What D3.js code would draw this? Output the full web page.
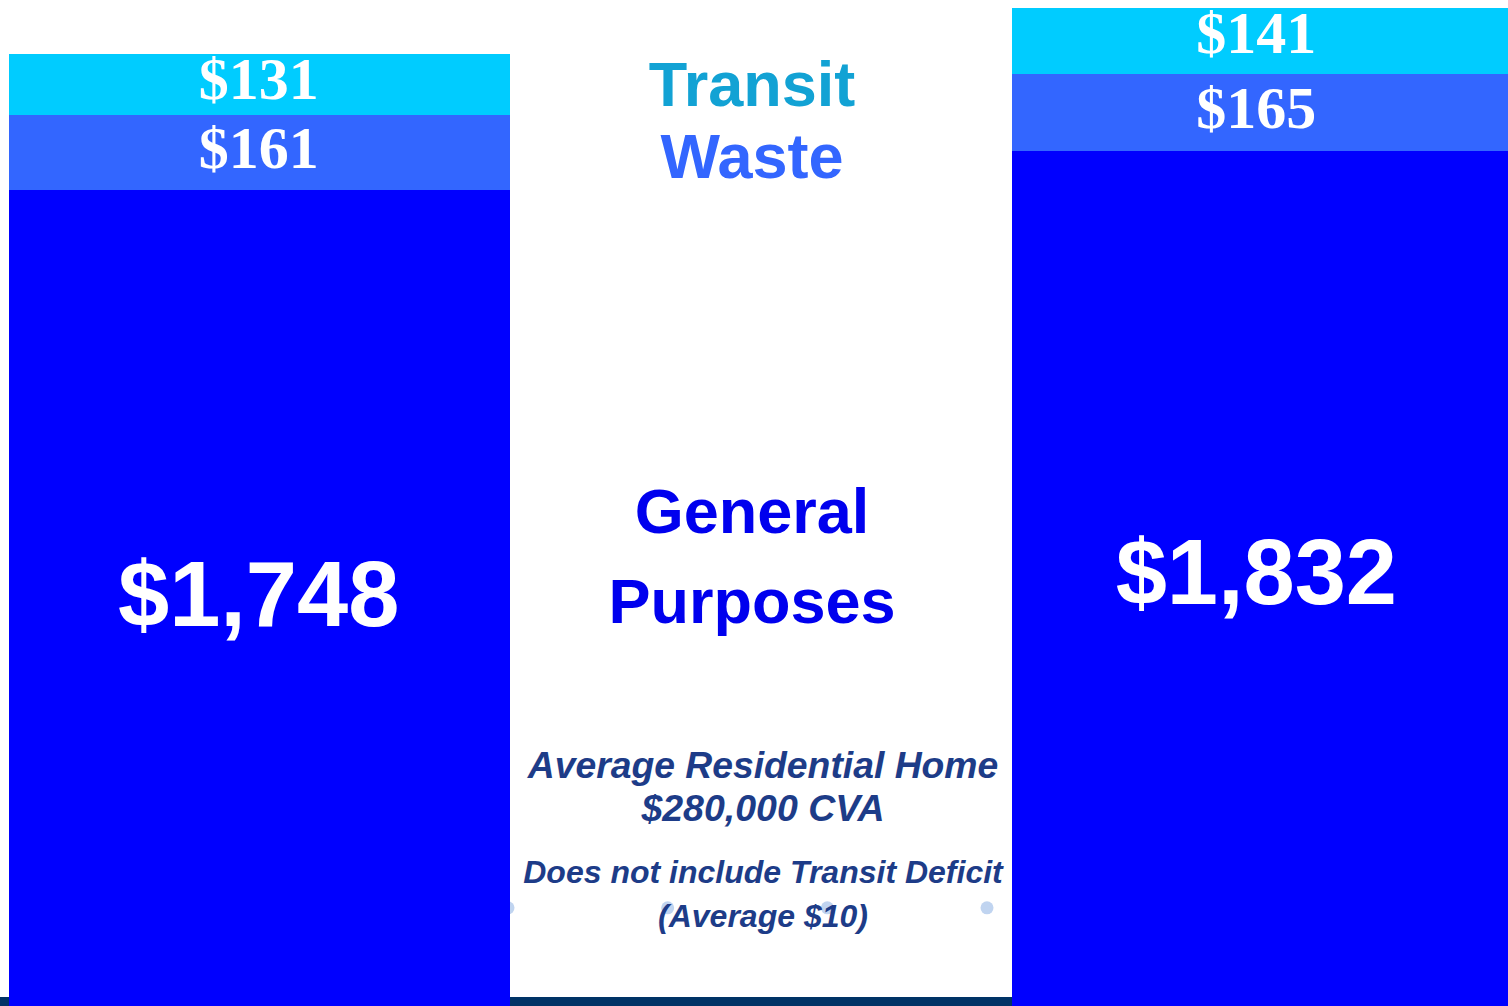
<!DOCTYPE html>
<html lang="en">
<head>
<meta charset="UTF-8">
<script src="https://d3js.org/d3.v7.min.js"></script>
<style>
  body { margin: 0; background: #ffffff; overflow: hidden; }
  svg { display: block; }
</style>
</head>
<body>
<div id="chart"></div>
<script>
// data
const categories = ["Current", "", "Proposed"];
const barCats = ["Current", "Proposed"];
const generalVals = [1748, 1832];
const wasteVals = [161, 165];
const transitVals = [131, 141];
const seriesNames = ["General Purposes", "Waste", "Transit"];
const seriesColors = ["#0000ff", "#3366ff", "#00ccff"];
const dotVals = [218, 218, 218, 218];
const noteLines = ["Average Residential Home", "$280,000 CVA", "Does not include Transit Deficit", "(Average $10)"];

const W = 1508, H = 1006;
const svg = d3.select("#chart").append("svg")
   .attr("width", W).attr("height", H);

const x = d3.scaleBand().domain(categories).range([9, 1513]).padding(0);
const y = d3.scaleLinear().domain([0, 2150]).range([1010, 2]);
const xDot = d3.scalePoint().domain(d3.range(dotVals.length)).range([508, 987]);

// bottom band
svg.append("rect")
   .attr("x", 0).attr("y", 997).attr("width", W).attr("height", H - 997)
   .attr("fill", "#003366");

// little markers (mostly hidden)
svg.selectAll("circle.dot").data(dotVals).enter().append("circle")
   .attr("class", "dot")
   .attr("cx", (d, i) => xDot(i))
   .attr("cy", d => y(d))
   .attr("r", 6.5)
   .attr("fill", "#c0d4f0");

// stack
const rows = barCats.map((c, i) => ({cat: c, g: generalVals[i], w: wasteVals[i], t: transitVals[i]}));
const stack = d3.stack().keys(["g", "w", "t"]);
const layers = stack(rows);

const lbl = [
  {size: 92, font: "'Liberation Sans', Arial, sans-serif", dy: [26, 23]},
  {size: 60, font: "'Liberation Serif', 'Times New Roman', serif", dy: [15, 16]},
  {size: 60, font: "'Liberation Serif', 'Times New Roman', serif", dy: [15, 12]}
];
const labelShift = [-1, -6];

layers.forEach((layer, k) => {
   const g = svg.append("g");
   g.selectAll("rect").data(layer).enter().append("rect")
      .attr("x", d => x(d.data.cat))
      .attr("width", x.bandwidth())
      .attr("y", d => y(d[1]))
      .attr("height", d => y(d[0]) - y(d[1]))
      .attr("fill", seriesColors[k])
      .attr("shape-rendering", "crispEdges");
   g.selectAll("text").data(layer).enter().append("text")
      .attr("x", (d, i) => x(d.data.cat) + x.bandwidth() / 2 + labelShift[i])
      .attr("y", (d, i) => (y(d[0]) + y(d[1])) / 2 + lbl[k].dy[i])
      .attr("text-anchor", "middle")
      .attr("font-family", lbl[k].font)
      .attr("font-weight", "bold")
      .attr("font-size", lbl[k].size)
      .attr("fill", "#ffffff")
      .text(d => "$" + d3.format(",")(d[1] - d[0]));
});

// series names in the middle column
const mx = x("") + x.bandwidth() / 2 - 9;
const names = [
  {t: "Transit", y: 106, c: "#12a2d4"},
  {t: "Waste", y: 178, c: "#3366ff"},
  {t: "General", y: 533, c: "#0000ee"},
  {t: "Purposes", y: 623, c: "#0000ee"}
];
svg.selectAll("text.name").data(names).enter().append("text")
   .attr("class", "name")
   .attr("x", mx)
   .attr("y", d => d.y)
   .attr("text-anchor", "middle")
   .attr("font-family", "'Liberation Sans', Arial, sans-serif")
   .attr("font-weight", "bold")
   .attr("font-size", 63)
   .attr("fill", d => d.c)
   .text(d => d.t);

// notes
const noteY = [778, 821, 883, 927];
const noteSize = [37.3, 37.5, 32, 32];
svg.selectAll("text.note").data(noteLines).enter().append("text")
   .attr("class", "note")
   .attr("x", x("") + x.bandwidth() / 2 + 2)
   .attr("y", (d, i) => noteY[i])
   .attr("text-anchor", "middle")
   .attr("font-family", "'Liberation Sans', Arial, sans-serif")
   .attr("font-weight", "bold")
   .attr("font-style", "italic")
   .attr("font-size", (d, i) => noteSize[i])
   .attr("fill", "#1d3c88")
   .text(d => d);
</script>
</body>
</html>
